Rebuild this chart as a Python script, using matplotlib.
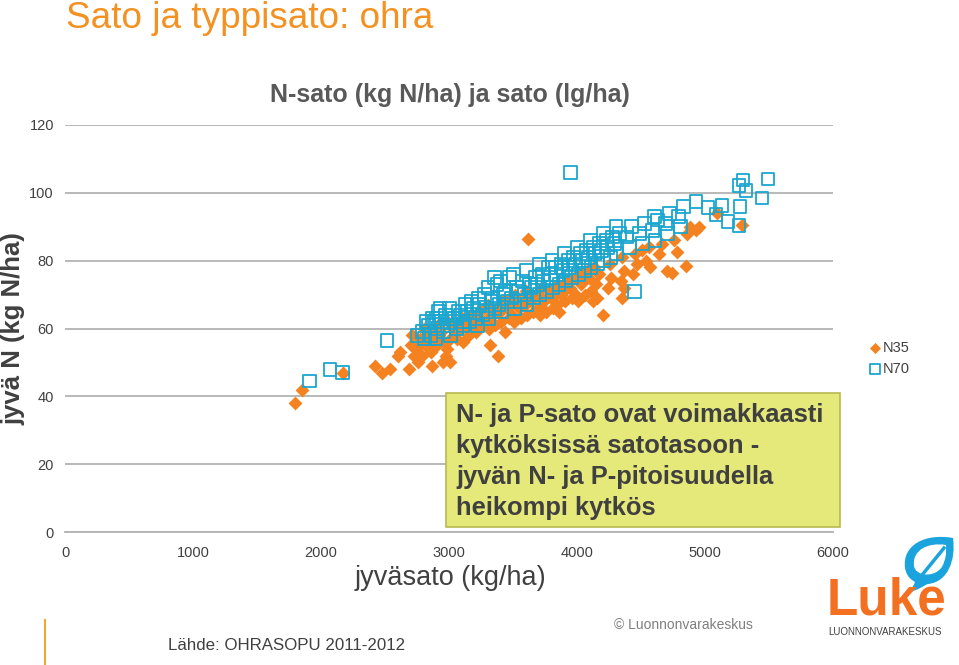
import numpy as np
from matplotlib import pyplot as plt
from matplotlib.patches import Polygon, Rectangle, PathPatch
from matplotlib.path import Path

plt.rcParams['font.family'] = ['Liberation Sans', 'DejaVu Sans']

# N35: (jyväsato kg/ha, jyvä N kg N/ha)
n35_pts = [
    (1800, 38), (1850, 42), (2170, 47), (2420, 49), (2480, 47), (2540, 48), (2600, 52),
    (2620, 53), (2690, 48), (2760, 50), (2730, 52), (2700, 55), (2870, 49), (2950, 50),
    (2980, 52), (3010, 50), (3320, 55), (3380, 52), (3620, 86.5), (4200, 64), (4125, 68),
    (4350, 69), (4370, 72), (4510, 83), (4570, 78), (4700, 77), (4740, 76.5), (4780, 82.5),
    (4850, 78.5), (4860, 88), (4880, 90), (4930, 89), (4950, 90), (5090, 94), (5290, 90.5),
    (2745, 54), (2770, 57), (2710, 58), (2790, 52), (2815, 55), (2830, 58), (2805, 60),
    (2860, 53), (2875, 56), (2845, 59), (2905, 55), (2890, 57), (2925, 58), (2915, 61),
    (2960, 56), (2940, 59), (2985, 54), (3010, 57), (3030, 60), (2995, 62), (3060, 57),
    (3045, 59), (3075, 61), (3110, 56), (3090, 60), (3125, 62), (3105, 63), (3160, 58),
    (3140, 61), (3175, 64), (3210, 59), (3190, 62), (3230, 65), (3220, 60), (3260, 61),
    (3245, 63), (3275, 66), (3310, 60), (3290, 62), (3330, 64), (3305, 67), (3360, 61),
    (3345, 64), (3375, 66), (3410, 62), (3395, 65), (3420, 68), (3440, 59), (3465, 63),
    (3450, 66), (3480, 69), (3510, 62), (3495, 64), (3530, 67), (3515, 70), (3560, 63),
    (3545, 66), (3575, 68), (3610, 64), (3590, 67), (3630, 69), (3605, 71), (3660, 65),
    (3640, 68), (3680, 70), (3710, 64), (3695, 66), (3725, 69), (3715, 72), (3760, 65),
    (3745, 68), (3780, 71), (3810, 66), (3795, 69), (3830, 72), (3860, 65), (3845, 67),
    (3875, 70), (3855, 73), (3910, 68), (3895, 71), (3925, 74), (3960, 69), (3945, 72),
    (3975, 75), (4010, 68), (3995, 70), (4030, 73), (4015, 76), (4060, 70), (4045, 74),
    (4075, 77), (4110, 71), (4095, 75), (4130, 78), (4160, 69), (4145, 73), (4175, 76),
    (4240, 72), (4265, 75), (4255, 79), (4340, 74), (4365, 77), (4355, 81), (4440, 76),
    (4465, 79), (4455, 82), (4540, 80), (4565, 84), (4640, 82), (4665, 85), (4760, 86),
]

# N70
n70_pts = [
    (1910, 44.5), (2070, 48), (2165, 47), (2515, 56.5), (2750, 58), (2900, 63), (2930, 66),
    (3950, 106), (4450, 71), (5297, 103.8), (5266, 102.1), (5320, 100.6), (5492, 104.1),
    (5445, 98.5), (5273, 95.9), (5266, 90.3), (5133, 96.2), (5023, 95.6), (4930, 97.4),
    (5086, 93.5), (5180, 91.5),
    (2810, 57), (2790, 59), (2825, 62), (2860, 58), (2840, 61), (2870, 63), (2895, 57),
    (2910, 60), (2885, 62), (2920, 65), (2960, 59), (2940, 62), (2975, 64), (3010, 58),
    (2990, 61), (3025, 63), (3005, 66), (3060, 60), (3040, 63), (3075, 65), (3110, 61),
    (3090, 64), (3125, 67), (3105, 62), (3160, 62), (3140, 65), (3175, 68), (3210, 63),
    (3190, 66), (3230, 69), (3220, 61), (3260, 64), (3240, 67), (3275, 70), (3310, 63),
    (3290, 65), (3330, 68), (3305, 72), (3360, 66), (3340, 69), (3375, 73), (3355, 75),
    (3410, 65), (3390, 67), (3425, 70), (3405, 74), (3460, 68), (3440, 71), (3475, 75),
    (3510, 66), (3490, 69), (3530, 72), (3505, 76), (3560, 68), (3540, 71), (3575, 74),
    (3610, 67), (3590, 70), (3630, 73), (3605, 77), (3660, 69), (3640, 72), (3675, 75),
    (3710, 70), (3690, 73), (3730, 76), (3705, 79), (3760, 71), (3740, 74), (3775, 78),
    (3810, 72), (3790, 75), (3830, 78), (3805, 80), (3860, 73), (3840, 76), (3875, 79),
    (3910, 74), (3890, 77), (3930, 80), (3905, 82), (3960, 75), (3940, 78), (3975, 81),
    (4010, 76), (3990, 79), (4030, 82), (4005, 84), (4060, 77), (4040, 80), (4075, 83),
    (4110, 78), (4090, 81), (4130, 84), (4105, 86), (4160, 79), (4140, 82), (4175, 85),
    (4210, 80), (4190, 83), (4230, 86), (4205, 88), (4260, 81), (4240, 84), (4275, 87),
    (4310, 82), (4290, 85), (4330, 88), (4305, 90), (4410, 84), (4390, 87), (4425, 90),
    (4510, 85), (4490, 88), (4525, 91), (4610, 86), (4590, 89), (4630, 92), (4605, 93),
    (4710, 88), (4690, 91), (4725, 94), (4810, 90), (4790, 93), (4830, 96),
]
n35_x, n35_y = zip(*n35_pts)
n70_x, n70_y = zip(*n70_pts)

orange = '#F58220'
cyan = '#1BA6CF'
W, H = 959, 665


def fx(x):
    return x / W


def fy(y):
    return 1 - y / H


fig = plt.figure(figsize=(9.59, 6.65), dpi=100)
ax = fig.add_axes([fx(65), fy(532), fx(833) - fx(65), fy(125) - fy(532)])

ax.scatter(n35_x, n35_y, marker='D', s=50, color=orange, linewidths=0, label='N35', zorder=3)
ax.scatter(n70_x, n70_y, marker='s', s=85, facecolors='none', edgecolors=cyan,
           linewidths=1.3, label='N70', zorder=4)

ax.set_xlim(0, 6000)
ax.set_ylim(0, 120)
ax.set_xticks(range(0, 7000, 1000))
ax.set_yticks(range(0, 140, 20))
ax.grid(axis='y', color='#B3B3B3', linewidth=1.3)
ax.set_axisbelow(True)
for s in ['top', 'right', 'left']:
    ax.spines[s].set_visible(False)
ax.spines['bottom'].set_color('#B3B3B3')
ax.spines['bottom'].set_linewidth(1.3)
ax.tick_params(axis='both', length=0, labelsize=10.5, labelcolor='#404040')
ax.tick_params(axis='y', pad=8)
ax.tick_params(axis='x', pad=10)

leg = fig.legend(loc='upper left', bbox_to_anchor=(fx(862), fy(335)), frameon=False,
                 handletextpad=0.0, handlelength=1.0, labelspacing=0.5,
                 prop={'size': 10.5}, borderaxespad=0, markerscale=0.8)
for t in leg.get_texts():
    t.set_color('#404040')

# titles and labels
fig.text(fx(66), fy(18), 'Sato ja typpisato: ohra', color='#F39222', fontsize=26.6,
         va='center', ha='left')
fig.text(fx(450), fy(95), 'N-sato (kg N/ha) ja sato (lg/ha)', color='#595959',
         fontsize=18, fontweight='bold', ha='center', va='center')
fig.text(fx(13), fy(329), 'jyvä N (kg N/ha)', color='#404040', fontsize=18.5,
         fontweight='bold', rotation=90, ha='center', va='center')
fig.text(fx(450), fy(578), 'jyväsato (kg/ha)', color='#404040', fontsize=19.5,
         ha='center', va='center')

# annotation box
fig.patches.append(Rectangle((fx(446), fy(527)), fx(840) - fx(446), fy(393) - fy(527),
                             transform=fig.transFigure, facecolor='#E5E97A',
                             edgecolor='#B7BA52', linewidth=1.2, zorder=5))
box_lines = ['N- ja P-sato ovat voimakkaasti', 'kytköksissä satotasoon -',
             'jyvän N- ja P-pitoisuudella', 'heikompi kytkös']
for i, line in enumerate(box_lines):
    fig.text(fx(456), fy(415 + 31 * i), line, color='#404040', fontsize=18.4,
             fontweight='bold', ha='left', va='center', zorder=6)

# footer
fig.lines.append(plt.Line2D([fx(45), fx(45)], [fy(620), fy(665)], transform=fig.transFigure,
                            color='#F0A830', linewidth=1.5))
fig.text(fx(168), fy(645), 'Lähde: OHRASOPU 2011-2012', color='#404040', fontsize=12.2,
         ha='left', va='center')
fig.text(fx(614), fy(625), '© Luonnonvarakeskus', color='#7F7F7F', fontsize=10,
         ha='left', va='center')

# logo: leaf-shaped speech bubble
leaf = Path([(fx(953), fy(538)), (fx(925), fy(533)), (fx(902), fy(545)), (fx(905), fy(568)),
             (fx(907), fy(578)), (fx(912), fy(580)), (fx(915), fy(582)),
             (fx(912), fy(590)), (fx(908), fy(592)), (fx(906), fy(593)),
             (fx(920), fy(590)), (fx(924), fy(585)), (fx(928), fy(584)),
             (fx(948), fy(582)), (fx(956), fy(560)), (fx(953), fy(538)), (fx(953), fy(538))],
            [Path.MOVETO, Path.CURVE4, Path.CURVE4, Path.CURVE4,
             Path.CURVE4, Path.CURVE4, Path.CURVE4,
             Path.CURVE4, Path.CURVE4, Path.CURVE4,
             Path.CURVE4, Path.CURVE4, Path.CURVE4,
             Path.CURVE4, Path.CURVE4, Path.CURVE4, Path.CLOSEPOLY])
fig.patches.append(PathPatch(leaf, transform=fig.transFigure, facecolor='#1AA3DC',
                             edgecolor='none'))
inner = Path([(fx(946), fy(545)), (fx(928), fy(542)), (fx(912), fy(550)), (fx(914), fy(566)),
              (fx(916), fy(578)), (fx(940), fy(578)), (fx(944), fy(562)),
              (fx(947), fy(555)), (fx(946), fy(548)), (fx(946), fy(545)), (fx(946), fy(545))],
             [Path.MOVETO, Path.CURVE4, Path.CURVE4, Path.CURVE4,
              Path.CURVE4, Path.CURVE4, Path.CURVE4,
              Path.CURVE4, Path.CURVE4, Path.CURVE4, Path.CLOSEPOLY])
fig.patches.append(PathPatch(inner, transform=fig.transFigure, facecolor='white',
                             edgecolor='none'))
fig.lines.append(plt.Line2D([fx(918), fx(944)], [fy(580), fy(548)], transform=fig.transFigure,
                            color='#1AA3DC', linewidth=2.5))
fig.text(fx(886), fy(601), 'Luke', color='#F37021', fontsize=37, fontweight='bold',
         ha='center', va='center')
fig.text(fx(885), fy(632), 'LUONNONVARAKESKUS', color='#404040', fontsize=7,
         ha='center', va='center')

fig.savefig('out.png', dpi=100)
